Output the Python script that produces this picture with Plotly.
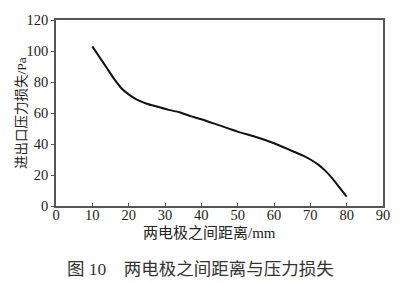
import plotly.graph_objects as go

# Data
distance_mm = [10, 12, 14, 16, 18, 20, 22, 25, 28, 31, 34, 37, 40, 45, 50, 55, 60, 65, 68, 70, 72, 74, 76, 78, 80]
pressure_loss_pa = [103, 96, 89, 82, 76, 72, 69, 66, 64, 62, 60.5, 58, 56, 52, 48, 44.5, 40.5, 35.5, 32.5, 30, 27, 23, 18, 12, 6]

x_ticks = [0, 10, 20, 30, 40, 50, 60, 70, 80, 90]
y_ticks = [0, 20, 40, 60, 80, 100, 120]

x_title = "两电极之间距离/mm"
y_title = "进出口压力损失/Pa"
caption = "图 10　两电极之间距离与压力损失"

FONT = "Liberation Serif, Times New Roman, Noto Sans CJK SC, serif"

fig = go.Figure()
fig.add_trace(go.Scatter(
    x=distance_mm, y=pressure_loss_pa, mode="lines",
    line=dict(color="#111111", width=2, shape="spline", smoothing=0.6),
    showlegend=False, hoverinfo="skip"))

axis_common = dict(
    showgrid=False, zeroline=False, showline=True, linecolor="#555555",
    linewidth=1.5, mirror=True, tickcolor="#555555", ticklen=3,
    tickfont=dict(family=FONT, size=14.5, color="#222222"),
)

fig.update_xaxes(range=[0, 90], tickvals=x_ticks, ticks="inside",
                 ticklabelstandoff=-5, **axis_common)
fig.update_yaxes(range=[0, 120], tickvals=y_ticks, ticks="outside", **axis_common)

fig.update_layout(
    width=404, height=283,
    margin=dict(l=56, r=21, t=13, b=77),
    paper_bgcolor="white", plot_bgcolor="white",
    font=dict(family=FONT, color="#222222"),
    annotations=[
        dict(text=x_title, xref="paper", yref="paper", x=0.47, y=0, yshift=-27,
             showarrow=False, xanchor="center", yanchor="middle",
             font=dict(family=FONT, size=15, color="#222222")),
        dict(text=y_title, xref="paper", yref="paper", x=0, y=0.5, xshift=-35,
             showarrow=False, xanchor="center", yanchor="middle", textangle=-90,
             font=dict(family=FONT, size=13.5, color="#222222")),
        dict(text=caption, xref="paper", yref="paper", x=0.5, y=0, yshift=-63,
             showarrow=False, xanchor="center", yanchor="middle",
             xshift=-19,
             font=dict(family=FONT, size=17.5, color="#333333")),
    ],
)

fig.write_html("out.html")
